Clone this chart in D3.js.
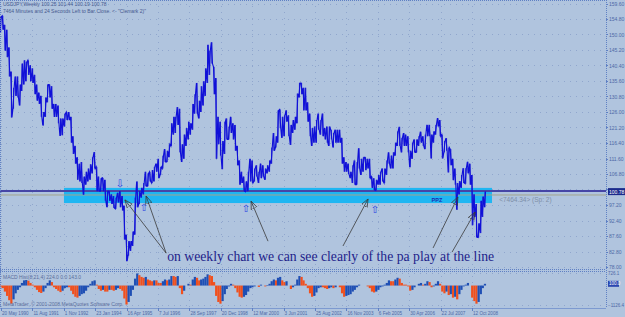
<!DOCTYPE html>
<html lang="en">
<head>
<meta charset="utf-8">
<title>USDJPY Weekly</title>
<script src="https://cdn.jsdelivr.net/npm/d3@7/dist/d3.min.js"></script>
<style>
  body { margin: 0; background: #b0c4de; }
  svg { display: block; font-family: "Liberation Sans", Arial, sans-serif; }
  .lbl { font-size: 5px; fill: #4d68a6; }
  .grid line { stroke: #6f88bb; stroke-opacity: 0.5; stroke-dasharray: 1,5; }
</style>
</head>
<body>
<svg id="chart" width="625" height="317"></svg>
<script>

// monthly bars, first one is May 1990
var firstMonth = new Date(1990, 4, 15);

var priceLow = [
  150.5,151.5,145.0,143.0,137.0,124.3,127.0,131.0,
  130.5,128.0,132.5,134.5,135.5,137.5,135.5,135.0,131.5,129.5,128.5,124.5,
  121.8,124.5,129.0,130.5,127.0,124.5,124.5,122.5,118.6,118.8,121.5,123.5,
  123.5,116.5,113.0,110.0,105.0,104.5,104.0,100.4,103.5,104.5,105.0,107.0,
  108.5,101.5,101.5,101.5,101.5,98.5,96.5,98.5,97.5,96.3,96.0,98.0,
  96.5,95.5,86.5,79.8,81.5,83.0,84.5,88.0,96.5,97.5,99.5,100.5,
  103.0,103.0,104.5,104.0,104.5,107.5,105.5,106.5,108.5,110.5,110.5,112.0,
  115.5,119.0,119.5,122.0,113.5,110.5,111.5,115.5,117.5,119.0,120.5,125.5,
  125.5,124.0,126.0,128.0,131.0,135.0,137.5,141.0,131.5,111.5,116.0,112.5,
  108.3,113.0,117.5,117.5,119.5,117.5,114.0,109.5,103.5,104.0,101.5,101.3,
  101.5,104.5,104.0,104.5,106.0,104.0,105.5,106.0,105.0,107.0,107.5,110.0,
  114.0,115.0,116.5,121.0,118.0,118.5,123.0,118.5,115.8,119.5,120.5,122.5,
  130.5,131.5,126.5,126.5,123.0,118.5,115.5,116.5,116.5,120.5,119.0,118.5,
  117.5,116.5,115.5,117.5,115.0,116.5,116.5,116.5,110.0,107.5,107.5,106.8,
  105.5,104.0,103.5,103.5,108.5,106.5,107.5,108.0,108.5,105.5,102.5,101.8,
  101.7,103.5,103.5,104.5,104.0,106.5,110.0,108.5,108.5,112.5,115.5,115.5,
  113.5,115.5,115.5,113.5,108.9,111.5,113.5,113.5,115.5,116.5,115.5,114.5,
  118.5,118.5,111.6,116.5,119.0,121.5,118.5,111.6,113.5,114.0,107.3,109.5,
  104.9,103.5,95.7,100.5,102.5,104.0,103.8,107.0,103.5,90.9,93.5,87.2,
  87.1,88.5,93.5,96.5
];

var priceHigh = [
  155.5,155.8,153.0,151.5,146.0,138.5,133.5,137.0,
  137.0,134.5,141.0,142.0,141.5,142.0,140.5,139.5,137.5,134.5,132.0,131.0,
  126.0,130.5,134.5,134.5,134.0,128.5,128.5,128.0,124.0,124.0,125.5,126.0,
  126.0,124.5,118.5,115.5,112.0,110.0,110.5,106.0,107.5,108.5,109.8,112.0,
  113.6,109.0,106.0,105.5,105.6,105.0,101.5,101.5,100.5,100.0,99.5,101.0,
  101.5,100.0,97.0,88.0,86.0,86.0,89.0,99.5,104.5,101.5,102.5,104.0,
  107.5,107.0,107.5,108.0,109.0,110.0,111.5,109.0,112.5,114.5,114.0,116.0,
  122.5,124.5,124.5,127.5,127.0,116.0,119.0,121.0,123.0,122.5,128.5,131.5,
  135.0,129.5,134.0,135.5,139.5,146.8,145.0,147.6,140.0,136.5,124.5,123.0,
  117.0,123.0,124.0,121.5,124.5,122.5,122.0,115.5,111.0,107.5,106.0,104.5,
  107.5,111.5,111.0,108.5,109.5,107.5,110.0,109.5,108.5,109.5,111.0,115.0,
  119.5,118.5,126.5,126.8,124.5,125.0,126.5,125.0,122.0,123.5,124.5,131.7,
  135.0,135.0,133.5,133.5,129.0,125.5,121.0,121.5,123.5,125.5,123.5,125.5,
  121.0,121.5,121.5,120.5,119.5,120.5,120.5,120.5,118.0,112.0,110.5,110.0,
  107.5,109.5,111.0,110.5,114.8,111.5,112.0,112.0,111.5,111.5,106.0,105.5,
  105.0,106.5,107.5,108.5,108.5,111.0,113.5,112.5,113.5,116.5,120.0,121.4,
  118.0,119.5,119.0,118.5,114.0,116.5,117.5,117.5,118.5,119.9,118.5,119.0,
  122.0,122.0,119.0,120.0,122.0,124.1,123.5,119.0,117.0,117.9,115.0,114.5,
  111.5,108.5,104.0,104.6,106.5,108.6,108.6,110.6,110.0,106.5,100.5,97.5,
  91.5,98.5,99.8,101.4
];

var macdHist = [
  -100,-150,-350,-600,-850,-1050,-800,-450,
  -250,-100,150,300,320,280,150,50,-100,-250,-380,-430,
  -350,-150,150,300,200,-100,-200,-300,-380,-300,-150,-100,
  -100,-300,-500,-650,-700,-600,-500,-450,-300,-100,100,250,
  300,50,-200,-300,-250,-350,-350,-250,-250,-300,-250,-150,
  -200,-300,-750,-1100,-950,-600,-250,400,700,600,500,450,
  500,350,300,250,300,300,150,150,250,350,300,350,
  550,550,500,550,-150,-500,-300,0,100,50,350,500,
  450,300,350,400,500,650,600,550,200,-600,-950,-1050,
  -900,-500,-200,-50,100,50,-150,-400,-650,-700,-650,-550,
  -350,-150,-100,-50,0,-80,50,0,-50,30,100,250,
  350,300,450,500,300,200,250,0,-200,-100,50,350,
  550,500,300,100,-150,-450,-650,-600,-400,-150,-100,-100,
  -150,-200,-150,-100,-150,-100,0,-100,-450,-650,-600,-550,
  -500,-350,-250,-100,50,0,0,0,-50,-150,-350,-400,
  -350,-250,-100,-50,50,150,300,250,250,350,450,400,
  150,50,50,-50,-300,-250,-100,0,100,150,50,100,
  250,200,-100,-50,100,250,100,-350,-450,-350,-550,-500,
  -700,-650,-800,-500,-250,-50,50,150,0,-700,-900,-1050,
  -950,-500,-150,100
];

var priceTicks = [159.6,154.8,150.0,145.2,140.4,135.6,130.8,126.0,121.2,116.4,
                  111.6,106.8,102.0,97.2,92.4,87.6,82.8,78.0];
var dateTicks = ["20 May 1990","11 Aug 1991","1 Nov 1992","23 Jan 1994","16 Apr 1995",
                 "7 Jul 1996","28 Sep 1997","20 Dec 1998","12 Mar 2000","3 Jun 2001",
                 "25 Aug 2002","16 Nov 2003","6 Feb 2005","30 Apr 2006","22 Jul 2007","12 Oct 2008"];
var macdTicks = [726.1, -1126.4];

var headerLines = ["USDJPY,Weekly  100.25 101.44 100.19 100.78",
                   "7464 Minutes and 24 Seconds Left to Bar Close. <- \"Clemark 2)\""];
var macdLabel = "MACD Hist(8,21,4) 224.0 0.0 143.0";
var copyright = "MetaTrader, \u00a9 2001-2008 MetaQuotes Software Corp.";

// support zone rectangle (decimal years / prices)
var zoneYears = [1992.84, 2009.56];
var zonePrices = [97.8, 102.5];
var bidLevel = 101.5, askLevel = 100.3, lastPrice = "100.78";

var noteText = "on weekly chart we can see clearly of the pa play at the line";
var notePos = [1996.87, 79.9];
// [fromYear, fromPrice, toYear, toPrice]
var noteArrows = [
  [1996.83, 82.3, 1995.22, 98.8],
  [1996.83, 82.3, 1996.05, 100.0],
  [2000.81, 86.0, 2000.15, 98.4],
  [2003.74, 84.5, 2004.72, 99.1],
  [2007.26, 83.9, 2008.23, 99.7],
  [2008.00, 82.6, 2008.90, 95.0]
];
var upMarks = [[1995.97, 96.3], [1999.95, 96.0], [2004.99, 95.7]];
var downMarks = [[1995.03, 104.0]];
var ppzMark = [2007.41, 98.75];
var spreadText = "<7464.34> (Sp: 2)";
var spreadPos = [2009.84, 99.0];

var svg = d3.select("#chart"),
    width = +svg.attr("width"),
    height = +svg.attr("height");

var plotRight = 606, mainBottom = 269, macdBottom = 308;
var parseDate = d3.timeParse("%d %b %Y");

var x = d3.scaleTime()
    .domain([parseDate("20 May 1990"), parseDate("12 Oct 2008")])
    .range([1, 472]);
var y = d3.scaleLinear().domain([78, 159.6]).range([267, 3.5]);
var yMacd = d3.scaleLinear().domain([-1126.4, 726.1]).range([305, 273]);

function yearDate(v) {
  var yr = Math.floor(v), a = new Date(yr, 0, 1), b = new Date(yr + 1, 0, 1);
  return new Date(+a + (v - yr) * (b - a));
}
function monthDate(i) { return d3.timeMonth.offset(firstMonth, i); }

svg.append("rect").attr("width", width).attr("height", height).attr("fill", "#b0c4de");

var defs = svg.append("defs");
defs.append("clipPath").attr("id", "mainClip")
  .append("rect").attr("width", plotRight).attr("height", mainBottom);
defs.append("marker")
    .attr("id", "tip")
    .attr("viewBox", "0 -5 10 10")
    .attr("refX", 10).attr("refY", 0)
    .attr("markerWidth", 8).attr("markerHeight", 8)
    .attr("markerUnits", "userSpaceOnUse")
    .attr("orient", "auto")
  .append("path")
    .attr("d", "M0,-4L10,0L0,4Z")
    .attr("fill", "none")
    .attr("stroke", "#3a3a3a")
    .attr("stroke-width", 0.9);

// grid
var grid = svg.append("g").attr("class", "grid");
grid.selectAll(".h").data(priceTicks).enter().append("line")
    .attr("x1", 0).attr("x2", plotRight)
    .attr("y1", function(d) { return Math.round(y(d)) + 0.5; })
    .attr("y2", function(d) { return Math.round(y(d)) + 0.5; });
grid.selectAll(".v").data(dateTicks).enter().append("line")
    .attr("x1", function(d) { return Math.round(x(parseDate(d))) + 0.5; })
    .attr("x2", function(d) { return Math.round(x(parseDate(d))) + 0.5; })
    .attr("y1", 0).attr("y2", macdBottom);
grid.selectAll(".m").data(macdTicks).enter().append("line")
    .attr("x1", 0).attr("x2", plotRight)
    .attr("y1", function(d) { return Math.round(yMacd(d)) + 0.5; })
    .attr("y2", function(d) { return Math.round(yMacd(d)) + 0.5; });

var main = svg.append("g").attr("clip-path", "url(#mainClip)");

// support zone
main.append("rect")
    .attr("x", x(yearDate(zoneYears[0])))
    .attr("width", x(yearDate(zoneYears[1])) - x(yearDate(zoneYears[0])))
    .attr("y", y(zonePrices[1]))
    .attr("height", y(zonePrices[0]) - y(zonePrices[1]))
    .attr("fill", "#1fb6f2");

// bid / ask lines
main.append("line")
    .attr("x1", 0).attr("x2", plotRight)
    .attr("y1", y(bidLevel)).attr("y2", y(bidLevel))
    .attr("stroke", "#4646a6").attr("stroke-width", 2);
main.append("line")
    .attr("x1", 0).attr("x2", plotRight)
    .attr("y1", y(askLevel)).attr("y2", y(askLevel))
    .attr("stroke", "#a4a48c").attr("stroke-width", 1);

// price bars: thin high-low bars plus a zigzag through them
main.append("g").selectAll("rect")
    .data(priceLow)
    .enter().append("rect")
      .attr("x", function(d, i) { return x(monthDate(i)) - 0.5; })
      .attr("width", 1)
      .attr("y", function(d, i) { return y(priceHigh[i]); })
      .attr("height", function(d, i) { return y(d) - y(priceHigh[i]); })
      .attr("fill", "#1c1cd4");

var zig = [];
priceLow.forEach(function(lo, i) {
  var hi = priceHigh[i], xm = x(monthDate(i));
  var up = i < priceLow.length - 1 ? (priceLow[i + 1] + priceHigh[i + 1]) > (lo + hi) : true;
  if (up) { zig.push([xm - 0.6, y(lo)], [xm + 0.6, y(hi)]); }
  else    { zig.push([xm - 0.6, y(hi)], [xm + 0.6, y(lo)]); }
});
main.append("path")
    .attr("d", d3.line()(zig))
    .attr("fill", "none")
    .attr("stroke", "#1010d8")
    .attr("stroke-width", 1.1);

// annotations
main.append("g").selectAll("line")
    .data(noteArrows)
    .enter().append("line")
      .attr("x1", function(d) { return x(yearDate(d[0])); })
      .attr("y1", function(d) { return y(d[1]); })
      .attr("x2", function(d) { return x(yearDate(d[2])); })
      .attr("y2", function(d) { return y(d[3]); })
      .attr("stroke", "#3a3a3a")
      .attr("stroke-width", 0.8)
      .attr("marker-end", "url(#tip)");

main.append("text")
    .attr("x", x(yearDate(notePos[0])))
    .attr("y", y(notePos[1]))
    .attr("textLength", 327)
    .attr("lengthAdjust", "spacingAndGlyphs")
    .style("font-family", "'Liberation Serif', 'DejaVu Serif', serif")
    .style("font-size", "14px")
    .style("fill", "#1e1e8a")
    .text(noteText);

main.selectAll(".up").data(upMarks).enter().append("text")
    .attr("x", function(d) { return x(yearDate(d[0])); })
    .attr("y", function(d) { return y(d[1]); })
    .attr("text-anchor", "middle").attr("dominant-baseline", "central")
    .style("font-family", "'DejaVu Sans'").style("font-size", "10px")
    .style("fill", "#2a3ee0")
    .text("\u21e7");
main.selectAll(".dn").data(downMarks).enter().append("text")
    .attr("x", function(d) { return x(yearDate(d[0])); })
    .attr("y", function(d) { return y(d[1]); })
    .attr("text-anchor", "middle").attr("dominant-baseline", "central")
    .style("font-family", "'DejaVu Sans'").style("font-size", "10px")
    .style("fill", "#2a3ee0")
    .text("\u21e9");
main.append("text")
    .attr("x", x(yearDate(ppzMark[0])))
    .attr("y", y(ppzMark[1]))
    .attr("text-anchor", "middle").attr("dominant-baseline", "central")
    .style("font-size", "5.5px").style("font-weight", "bold")
    .style("fill", "#1a2cb0")
    .text("PPZ");
main.append("text")
    .attr("x", x(yearDate(spreadPos[0])))
    .attr("y", y(spreadPos[1]))
    .attr("dominant-baseline", "central")
    .style("font-size", "6.5px")
    .style("fill", "#7f8fa8")
    .text(spreadText);

// macd histogram
svg.append("g").selectAll("rect")
    .data(macdHist)
    .enter().append("rect")
      .attr("x", function(d, i) { return x(monthDate(i)) - 1.1; })
      .attr("width", 2.2)
      .attr("y", function(d) { return yMacd(Math.max(0, d)); })
      .attr("height", function(d) { return Math.abs(yMacd(d) - yMacd(0)); })
      .attr("fill", function(d, i) {
        return (i > 0 && d > macdHist[i - 1]) ? "#1f4fb4" : "#f0501e";
      });

// frame
var frameColor = "#5f80c4";
svg.append("line").attr("x1", 0).attr("x2", plotRight).attr("y1", 0.5).attr("y2", 0.5)
    .attr("stroke", frameColor).attr("stroke-dasharray", "1,1");
svg.append("line").attr("x1", 0.5).attr("x2", 0.5).attr("y1", 0).attr("y2", macdBottom)
    .attr("stroke", frameColor).attr("stroke-dasharray", "1,1");
svg.append("line").attr("x1", plotRight + 0.5).attr("x2", plotRight + 0.5).attr("y1", 0).attr("y2", macdBottom)
    .attr("stroke", frameColor).attr("stroke-dasharray", "1,1");
[mainBottom + 0.5, mainBottom + 2.5].forEach(function(v) {
  svg.append("line").attr("x1", 0).attr("x2", plotRight).attr("y1", v).attr("y2", v)
      .attr("stroke", frameColor).attr("stroke-dasharray", "1,1");
});
svg.append("line").attr("x1", 0).attr("x2", plotRight).attr("y1", macdBottom + 0.5).attr("y2", macdBottom + 0.5)
    .attr("stroke", "#7d9ad0");

// right price axis
var axisG = svg.append("g");
axisG.selectAll("text").data(priceTicks.filter(function(d) { return d !== 102.0; }))
    .enter().append("text")
      .attr("class", "lbl")
      .attr("x", plotRight + 3)
      .attr("y", function(d) { return y(d); })
      .attr("dominant-baseline", "central")
      .text(function(d) { return d3.format(".2f")(d); });
axisG.selectAll("line").data(priceTicks)
    .enter().append("line")
      .attr("x1", plotRight).attr("x2", plotRight + 2)
      .attr("y1", function(d) { return Math.round(y(d)) + 0.5; })
      .attr("y2", function(d) { return Math.round(y(d)) + 0.5; })
      .attr("stroke", frameColor);
axisG.append("rect")
    .attr("x", plotRight + 2).attr("y", y(bidLevel) - 3)
    .attr("width", 17).attr("height", 7)
    .attr("fill", "#1a2a8c");
axisG.append("text")
    .attr("x", plotRight + 3).attr("y", y(bidLevel) + 0.5)
    .attr("dominant-baseline", "central")
    .style("font-size", "5px").style("fill", "#ffffff")
    .text(lastPrice);

// macd axis
axisG.selectAll(".mt").data(macdTicks).enter().append("text")
    .attr("class", "lbl")
    .attr("x", plotRight + 2)
    .attr("y", function(d) { return yMacd(d); })
    .attr("dominant-baseline", "central")
    .style("font-size", "4.5px")
    .text(function(d) { return d3.format(".1f")(d); });
axisG.append("rect")
    .attr("x", plotRight + 2).attr("y", yMacd(macdHist[macdHist.length - 1]) - 3)
    .attr("width", 11).attr("height", 6)
    .attr("fill", "#2a46b0");
axisG.append("text")
    .attr("x", plotRight + 3).attr("y", yMacd(macdHist[macdHist.length - 1]))
    .attr("dominant-baseline", "central")
    .style("font-size", "4.5px").style("fill", "#ffffff")
    .text(d3.format(".1f")(macdHist[macdHist.length - 1]));

// date axis
var dateG = svg.append("g");
dateG.selectAll("text").data(dateTicks).enter().append("text")
    .attr("class", "lbl")
    .attr("x", function(d) { return x(parseDate(d)) + 1; })
    .attr("y", 315)
    .style("font-size", "4.6px")
    .text(function(d) { return d; });
dateG.selectAll("line").data(dateTicks).enter().append("line")
    .attr("x1", function(d) { return Math.round(x(parseDate(d))) + 0.5; })
    .attr("x2", function(d) { return Math.round(x(parseDate(d))) + 0.5; })
    .attr("y1", macdBottom).attr("y2", macdBottom + 3)
    .attr("stroke", frameColor);

// header and panel texts
svg.selectAll(".hdr").data(headerLines).enter().append("text")
    .attr("x", 3)
    .attr("y", function(d, i) { return 6 + i * 7; })
    .style("font-size", "5px")
    .style("fill", "#46598f")
    .text(function(d) { return d; });
svg.append("text").attr("x", 3).attr("y", 279)
    .style("font-size", "5px").style("fill", "#5b6e9c")
    .text(macdLabel);
svg.append("text").attr("x", 3).attr("y", 306)
    .style("font-size", "5px").style("fill", "#5b6e9c")
    .text(copyright);

</script>
</body>
</html>
